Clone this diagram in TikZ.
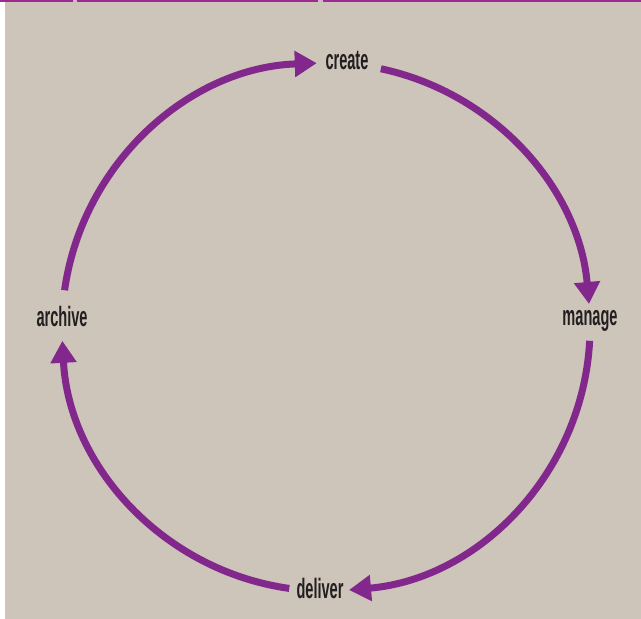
\documentclass[tikz,border=0pt]{standalone}
\usepackage{fontspec}
\setmainfont{Liberation Sans}[FakeStretch=0.52]
\usetikzlibrary{arrows.meta}
\definecolor{sand}{HTML}{CDC4BA}
\definecolor{plum}{HTML}{82278C}
\definecolor{rim}{HTML}{9C2A90}
\definecolor{rimgap}{HTML}{D2B4CF}
\definecolor{ink}{HTML}{231F20}
\tikzset{
  cycarrow/.style = {draw = plum, line width = 7pt, -{Triangle[length=22pt, width=25pt]}},
  stage/.style = {text = ink, font = \fontsize{28}{28}\selectfont\bfseries, inner sep = 0pt, anchor = base}
}

\begin{document}
\begin{tikzpicture}[x = 1pt, y = 1pt]
\useasboundingbox (0,0) rectangle (641,619);
\fill [white] (0,0) rectangle (5,619);
\fill [sand] (5,0) rectangle (641,617);
\fill [rimgap] (0,617) rectangle (641,619);
\fill [rim] (0,617) rectangle (73,619);
\fill [rim] (77,617) rectangle (318,619);
\fill [rim] (323,617) rectangle (641,619);
\coordinate (c) at (326,292);
% stages of the cycle
\node [stage] (create) at (347,549) {create};
\node [stage] (manage) at (590,293) {manage};
\node [stage] (deliver) at (320,20) {deliver};
\node [stage] (archive) at (62,292) {archive};
% arcs between the stages
\draw [cycarrow] ([shift = {(172:264)}]c) arc [start angle = 172, end angle = 92, radius = 264];
\draw [cycarrow] ([shift = {(78:264)}]c) arc [start angle = 78, end angle = 5, radius = 264];
\draw [cycarrow] ([shift = {(-3:264)}]c) arc [start angle = -3, end angle = -85, radius = 264];
\draw [cycarrow] ([shift = {(-98:264)}]c) arc [start angle = -98, end angle = -177, radius = 264];
\end{tikzpicture}
\end{document}
